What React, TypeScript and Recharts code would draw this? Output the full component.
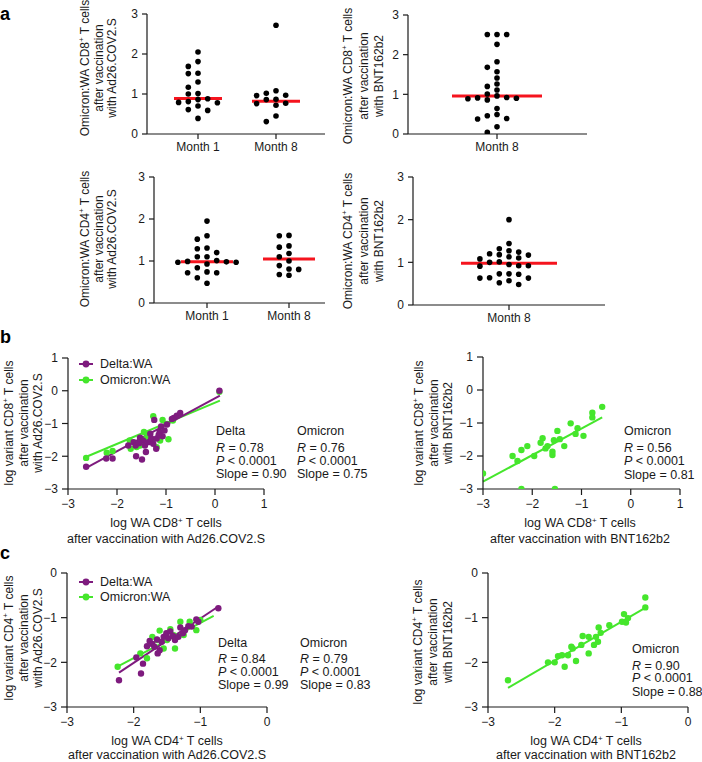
import React from 'react';
import { ScatterChart, Scatter, XAxis, YAxis, ReferenceLine } from 'recharts';

const FONT = '"Liberation Sans", Arial, Helvetica, sans-serif';
const INK = '#1a1a1a';
const RED = '#f5141e';
const PURPLE = '#7e1b7e';
const GREEN = '#45e62c';

// ---------- Panel a data (ratio Omicron:WA) ----------
const monthCats = ['Month 1', 'Month 8'];
const month8Cat = ['Month 8'];
const cd8Ad26M1 = [2.05, 1.81, 1.69, 1.52, 1.51, 1.3, 1.17, 1.01, 1.0, 0.88, 0.86, 0.81, 0.79, 0.78, 0.7, 0.61, 0.59, 0.39];
const cd8Ad26M8 = [2.72, 1.08, 1.02, 0.97, 0.96, 0.87, 0.86, 0.77, 0.76, 0.72, 0.45, 0.31];
const cd8BntM8 = [2.51, 2.51, 2.51, 2.26, 1.82, 1.68, 1.57, 1.41, 1.26, 1.2, 1.11, 1.01, 0.96, 0.92, 0.91, 0.9, 0.89, 0.86, 0.64, 0.49, 0.46, 0.39, 0.38, 0.18, 0.04];
const cd4Ad26M1 = [1.95, 1.6, 1.52, 1.31, 1.29, 1.2, 1.1, 1.1, 1.01, 0.99, 0.98, 0.97, 0.97, 0.93, 0.84, 0.74, 0.72, 0.72, 0.6, 0.47];
const cd4Ad26M8 = [1.61, 1.6, 1.36, 1.33, 1.18, 1.1, 1.0, 0.89, 0.81, 0.8, 0.68, 0.66];
const cd4BntM8 = [2.0, 1.44, 1.32, 1.27, 1.24, 1.2, 1.18, 1.17, 1.13, 1.1, 1.08, 1.01, 1.0, 0.95, 0.92, 0.92, 0.91, 0.73, 0.73, 0.72, 0.64, 0.63, 0.63, 0.57, 0.52, 0.48];
const medCd8Ad26 = [0.89, 0.82];
const medCd8Bnt = [0.96];
const medCd4Ad26 = [0.98, 1.05];
const medCd4Bnt = [0.98];
const ratioTicks = [0, 1, 2, 3];

// ---------- Panel b data (log WA, log variant) ----------
const bDeltaAd26 = [[-2.63, -2.32], [-2.22, -2.07], [-2.09, -2.07], [-1.77, -1.67], [-1.66, -1.57], [-1.61, -2.0], [-1.49, -2.1], [-1.41, -1.87], [-1.53, -1.43], [-1.47, -1.52], [-1.43, -1.67], [-1.36, -1.57], [-1.3, -1.46], [-1.26, -1.62], [-1.2, -1.77], [-1.19, -1.46], [-1.24, -0.89], [-1.13, -1.26], [-1.1, -1.09], [-1.07, -1.39], [-1.03, -1.21], [-0.98, -1.03], [-0.88, -0.86], [-0.84, -0.83], [-0.78, -0.76], [-0.71, -0.68], [0.09, 0.0], [-1.62, -1.67], [-1.32, -1.31], [-1.55, -1.6], [-1.15, -1.35]];
const bOmicronAd26 = [[-2.63, -2.05], [-2.21, -1.89], [-2.09, -1.84], [-1.74, -1.52], [-1.72, -1.77], [-1.6, -1.72], [-1.45, -1.26], [-1.26, -0.78], [-1.07, -0.89], [-0.95, -1.48], [-0.86, -0.91], [0.09, -0.03], [-1.36, -1.33], [-1.53, -1.67], [-1.19, -1.72], [-1.12, -1.52], [-0.98, -1.01], [-1.4, -1.45], [-1.28, -1.5]];
const bDeltaAd26Fit = [[-2.6, -2.33], [0.1, -0.15]];
const bOmicronAd26Fit = [[-2.6, -2.0], [0.1, -0.3]];
const bOmicronBnt = [[-3.0, -2.53], [-2.4, -2.0], [-2.3, -2.15], [-2.22, -1.82], [-2.1, -1.7], [-1.96, -2.0], [-1.83, -1.6], [-1.79, -1.46], [-1.73, -1.77], [-1.69, -1.7], [-1.59, -1.97], [-1.59, -1.87], [-1.56, -1.52], [-1.49, -1.24], [-1.44, -1.49], [-1.35, -1.7], [-1.22, -1.01], [-1.12, -1.33], [-1.08, -1.16], [-0.96, -1.39], [-0.78, -0.69], [-0.78, -0.83], [-0.58, -0.51], [-2.22, -3.0], [-1.54, -3.0]];
const bOmicronBntFit = [[-3.0, -2.78], [-0.58, -0.83]];
const bTicks = [-3, -2, -1, 0, 1];

// ---------- Panel c data ----------
const cDeltaAd26 = [[-2.22, -2.4], [-1.96, -1.89], [-1.89, -2.25], [-1.86, -2.03], [-1.8, -1.64], [-1.76, -1.52], [-1.72, -1.59], [-1.65, -1.49], [-1.64, -1.8], [-1.61, -1.73], [-1.58, -1.54], [-1.55, -1.43], [-1.51, -1.35], [-1.48, -1.46], [-1.45, -1.31], [-1.41, -1.41], [-1.38, -1.5], [-1.33, -1.43], [-1.3, -1.22], [-1.26, -1.35], [-1.23, -1.28], [-1.18, -1.19], [-1.13, -1.2], [-1.06, -1.04], [-1.03, -1.09], [-0.73, -0.79], [-1.69, -1.65]];
const cOmicronAd26 = [[-2.24, -2.1], [-1.9, -1.8], [-1.8, -1.91], [-1.61, -1.29], [-1.55, -1.69], [-1.45, -1.26], [-1.38, -1.69], [-1.3, -1.09], [-1.25, -1.39], [-1.16, -1.09], [-1.06, -1.28], [-1.65, -1.5], [-1.5, -1.5], [-1.4, -1.39], [-1.72, -1.43], [-1.0, -1.05]];
const cDeltaAd26Fit = [[-2.22, -2.23], [-0.73, -0.75]];
const cOmicronAd26Fit = [[-2.25, -2.1], [-0.8, -0.96]];
const cOmicronBnt = [[-2.7, -2.4], [-2.1, -2.0], [-2.0, -2.0], [-1.95, -1.86], [-1.89, -1.84], [-1.85, -2.1], [-1.8, -1.84], [-1.75, -1.65], [-1.73, -1.69], [-1.68, -1.97], [-1.6, -1.61], [-1.58, -1.41], [-1.49, -1.43], [-1.49, -1.8], [-1.41, -1.61], [-1.38, -1.43], [-1.35, -1.54], [-1.34, -1.22], [-1.31, -1.34], [-1.18, -1.17], [-0.99, -1.09], [-0.96, -0.92], [-0.93, -1.11], [-0.9, -1.01], [-0.64, -0.77], [-0.64, -0.55]];
const cOmicronBntFit = [[-2.7, -2.57], [-0.63, -0.77]];
const cTicks = [-3, -2, -1, 0];

const fmtMinus = (v: number) => (v < 0 ? `\u2212${Math.abs(v)}` : `${v}`);

// beeswarm layout computed from the values (pixel offsets)
function beeswarm(values: number[], pxPerY: number, step: number, minDist: number): number[] {
  const order = values.map((_, i) => i).sort((a, b) => values[b] - values[a]);
  const placed: { x: number; y: number }[] = [];
  const out = new Array(values.length).fill(0);
  for (const i of order) {
    const y = values[i] * pxPerY;
    const cands = [0];
    for (let k = 1; k < 12; k++) { cands.push(-k * step, k * step); }
    let chosen = 0;
    for (const c of cands) {
      const ok = placed.every((p) => Math.hypot(p.x - c, p.y - y) >= minDist);
      if (ok) { chosen = c; break; }
    }
    placed.push({ x: chosen, y });
    out[i] = chosen;
  }
  return out;
}

const axisStyle = { stroke: INK, strokeWidth: 1.2 };
const tickStyle = { fill: INK, fontSize: 12, fontFamily: FONT };

type StripProps = {
  axisX: number; xEnd: number; yTop: number; yBottom: number;
  cats: string[]; catPx: number[]; groups: number[][]; medians: number[]; medianHalfPx: number;
};

function StripPanel(p: StripProps) {
  const YW = 40, MT = 10, MR = 6, XH = 30;
  const plotW = p.xEnd - p.axisX;
  const plotH = p.yBottom - p.yTop;
  const n = p.cats.length;
  const ppu = n > 1 ? p.catPx[1] - p.catPx[0] : (p.xEnd - p.axisX) / 2;
  const domain: [number, number] = [1 - (p.catPx[0] - p.axisX) / ppu, n + (p.xEnd - p.catPx[n - 1]) / ppu];
  const pxPerY = plotH / 3;
  const data = p.groups.flatMap((vals, gi) => {
    const offs = beeswarm(vals, pxPerY, 9.7, 5.9);
    return vals.map((v, i) => ({ x: gi + 1 + offs[i] / ppu, y: v }));
  });
  const hw = p.medianHalfPx / ppu;
  return (
    <div style={{ position: 'absolute', left: p.axisX - YW, top: p.yTop - MT }}>
      <ScatterChart width={YW + plotW + MR} height={MT + plotH + XH} margin={{ top: MT, right: MR, bottom: 0, left: 0 }}>
        <XAxis type="number" dataKey="x" domain={domain} ticks={p.cats.map((_, i) => i + 1)} interval={0}
          tickFormatter={(v: number) => p.cats[Math.round(v) - 1]} height={XH} tickSize={5} tickMargin={3}
          axisLine={axisStyle} tickLine={axisStyle} tick={tickStyle} allowDataOverflow />
        <YAxis type="number" dataKey="y" domain={[0, 3]} ticks={ratioTicks} interval={0} width={YW}
          tickSize={5} tickMargin={4} axisLine={axisStyle} tickLine={axisStyle} tick={tickStyle} allowDataOverflow />
        <Scatter data={data} isAnimationActive={false}
          shape={(s: any) => <circle cx={s.cx} cy={s.cy} r={2.8} fill="#000" />} />
        {p.medians.map((m, i) => (
          <ReferenceLine key={i} segment={[{ x: i + 1 - hw, y: m }, { x: i + 1 + hw, y: m }]}
            stroke={RED} strokeWidth={3} ifOverflow="visible" />
        ))}
      </ScatterChart>
    </div>
  );
}

type Series = { pts: number[][]; color: string; fit: number[][] };
type CorrProps = {
  axisX: number; xEnd: number; yTop: number; yBottom: number;
  xDomain: [number, number]; yDomain: [number, number]; xTicks: number[]; yTicks: number[]; series: Series[];
};

function CorrPanel(p: CorrProps) {
  const YW = 36, MT = 10, MR = 10, XH = 26;
  const plotW = p.xEnd - p.axisX;
  const plotH = p.yBottom - p.yTop;
  return (
    <div style={{ position: 'absolute', left: p.axisX - YW, top: p.yTop - MT }}>
      <ScatterChart width={YW + plotW + MR} height={MT + plotH + XH} margin={{ top: MT, right: MR, bottom: 0, left: 0 }}>
        <XAxis type="number" dataKey="x" domain={p.xDomain} ticks={p.xTicks} interval={0} height={XH}
          tickFormatter={fmtMinus} tickSize={6} tickMargin={4} axisLine={axisStyle} tickLine={axisStyle}
          tick={tickStyle} allowDataOverflow />
        <YAxis type="number" dataKey="y" domain={p.yDomain} ticks={p.yTicks} interval={0} width={YW}
          tickFormatter={fmtMinus} tickSize={6} tickMargin={4} axisLine={axisStyle} tickLine={axisStyle}
          tick={tickStyle} allowDataOverflow />
        {p.series.map((s, i) => (
          <Scatter key={i} data={s.pts.map(([x, y]) => ({ x, y }))} isAnimationActive={false}
            shape={(d: any) => <circle cx={d.cx} cy={d.cy} r={3.2} fill={s.color} />} />
        ))}
        {p.series.map((s, i) => (
          <ReferenceLine key={'f' + i} segment={[{ x: s.fit[0][0], y: s.fit[0][1] }, { x: s.fit[1][0], y: s.fit[1][1] }]}
            stroke={s.color} strokeWidth={2} ifOverflow="visible" />
        ))}
      </ScatterChart>
    </div>
  );
}

// ---------- text helpers ----------
const cellText = (prefix: string, cd: string) => (
  <>
    {prefix} CD{cd}
    <tspan dy={-4.5} fontSize={8}>+</tspan>
    <tspan dy={4.5}> T cells</tspan>
  </>
);

function RotLines({ xs, cy, lines }: { xs: number[]; cy: number; lines: React.ReactNode[] }) {
  return (
    <>
      {lines.map((ln, i) => (
        <text key={i} x={xs[i]} y={cy} transform={`rotate(-90 ${xs[i]} ${cy})`} textAnchor="middle"
          dominantBaseline="central" fontSize={12} fontFamily={FONT} fill={INK}>{ln}</text>
      ))}
    </>
  );
}

function XTitle({ cx, ys, lines }: { cx: number; ys: number[]; lines: React.ReactNode[] }) {
  return (
    <>
      {lines.map((ln, i) => (
        <text key={i} x={cx} y={ys[i]} textAnchor="middle" fontSize={12.5} fontFamily={FONT} fill={INK}>{ln}</text>
      ))}
    </>
  );
}

function Stats({ x, ys, title, r, slope }: { x: number; ys: number[]; title: string; r: string; slope: string }) {
  const common = { fontSize: 12.5, fontFamily: FONT, fill: INK };
  return (
    <>
      <text x={x} y={ys[0]} {...common}>{title}</text>
      <text x={x} y={ys[1]} {...common}><tspan fontStyle="italic">R</tspan>{' = ' + r}</text>
      <text x={x} y={ys[2]} {...common}><tspan fontStyle="italic">P</tspan>{' < 0.0001'}</text>
      <text x={x} y={ys[3]} {...common}>{'Slope = ' + slope}</text>
    </>
  );
}

function LegendRows({ x, ys }: { x: number; ys: number[] }) {
  const items = [
    { label: 'Delta:WA', color: PURPLE },
    { label: 'Omicron:WA', color: GREEN },
  ];
  return (
    <>
      {items.map((it, i) => (
        <g key={i}>
          <line x1={x} x2={x + 14} y1={ys[i]} y2={ys[i]} stroke={it.color} strokeWidth={2} />
          <circle cx={x + 7} cy={ys[i]} r={3.4} fill={it.color} />
          <text x={x + 21} y={ys[i]} dominantBaseline="central" fontSize={12.5} fontFamily={FONT} fill={INK}>{it.label}</text>
        </g>
      ))}
    </>
  );
}

export default function App() {
  return (
    <div style={{ position: 'absolute', left: 0, top: 0, width: 702, height: 762, background: '#fff', overflow: 'hidden' }}>
      {/* Panel a */}
      <StripPanel axisX={147} xEnd={325} yTop={14} yBottom={134} cats={monthCats} catPx={[198, 276]}
        groups={[cd8Ad26M1, cd8Ad26M8]} medians={medCd8Ad26} medianHalfPx={24} />
      <StripPanel axisX={408} xEnd={587} yTop={15} yBottom={134} cats={month8Cat} catPx={[497]}
        groups={[cd8BntM8]} medians={medCd8Bnt} medianHalfPx={45} />
      <StripPanel axisX={154} xEnd={325} yTop={177} yBottom={303} cats={monthCats} catPx={[207, 289]}
        groups={[cd4Ad26M1, cd4Ad26M8]} medians={medCd4Ad26} medianHalfPx={26} />
      <StripPanel axisX={413} xEnd={605} yTop={177} yBottom={305} cats={month8Cat} catPx={[509]}
        groups={[cd4BntM8]} medians={medCd4Bnt} medianHalfPx={48} />

      {/* Panel b */}
      <CorrPanel axisX={68} xEnd={264} yTop={358} yBottom={489} xDomain={[-3, 1]} yDomain={[-3, 1]}
        xTicks={bTicks} yTicks={bTicks}
        series={[{ pts: bOmicronAd26, color: GREEN, fit: bOmicronAd26Fit }, { pts: bDeltaAd26, color: PURPLE, fit: bDeltaAd26Fit }]} />
      <CorrPanel axisX={483} xEnd={680} yTop={357} yBottom={489} xDomain={[-3, 1]} yDomain={[-3, 1]}
        xTicks={bTicks} yTicks={bTicks}
        series={[{ pts: bOmicronBnt, color: GREEN, fit: bOmicronBntFit }]} />

      {/* Panel c */}
      <CorrPanel axisX={67} xEnd={267} yTop={573} yBottom={707} xDomain={[-3, 0]} yDomain={[-3, 0]}
        xTicks={cTicks} yTicks={cTicks}
        series={[{ pts: cOmicronAd26, color: GREEN, fit: cOmicronAd26Fit }, { pts: cDeltaAd26, color: PURPLE, fit: cDeltaAd26Fit }]} />
      <CorrPanel axisX={488} xEnd={688} yTop={573} yBottom={707} xDomain={[-3, 0]} yDomain={[-3, 0]}
        xTicks={cTicks} yTicks={cTicks}
        series={[{ pts: cOmicronBnt, color: GREEN, fit: cOmicronBntFit }]} />

      <svg width={702} height={762} style={{ position: 'absolute', left: 0, top: 0, pointerEvents: 'none' }}>
        <text x={0} y={20} fontSize={18} fontWeight="bold" fontFamily={FONT} fill="#000">a</text>
        <text x={0} y={343} fontSize={18} fontWeight="bold" fontFamily={FONT} fill="#000">b</text>
        <text x={0} y={559} fontSize={18} fontWeight="bold" fontFamily={FONT} fill="#000">c</text>

        <RotLines xs={[85, 98.5, 112]} cy={68} lines={[cellText('Omicron:WA', '8'), 'after vaccination', 'with Ad26.COV2.S']} />
        <RotLines xs={[348, 363.5, 379]} cy={76} lines={[cellText('Omicron:WA', '8'), 'after vaccination', 'with BNT162b2']} />
        <RotLines xs={[85, 98.5, 112]} cy={239} lines={[cellText('Omicron:WA', '4'), 'after vaccination', 'with Ad26.COV2.S']} />
        <RotLines xs={[348, 363.5, 379]} cy={241} lines={[cellText('Omicron:WA', '4'), 'after vaccination', 'with BNT162b2']} />

        <RotLines xs={[9, 23.5, 38]} cy={423} lines={[cellText('log variant', '8'), 'after vaccination', 'with Ad26.COV2.S']} />
        <RotLines xs={[419, 433.5, 448]} cy={423} lines={[cellText('log variant', '8'), 'after vaccination', 'with BNT162b2']} />
        <RotLines xs={[9, 23.5, 38]} cy={638} lines={[cellText('log variant', '4'), 'after vaccination', 'with Ad26.COV2.S']} />
        <RotLines xs={[418, 433, 448]} cy={642} lines={[cellText('log variant', '4'), 'after vaccination', 'with BNT162b2']} />

        <XTitle cx={166} ys={[527, 543]} lines={[cellText('log WA', '8'), 'after vaccination with Ad26.COV2.S']} />
        <XTitle cx={580} ys={[527, 543]} lines={[cellText('log WA', '8'), 'after vaccination with BNT162b2']} />
        <XTitle cx={167} ys={[745, 758.5]} lines={[cellText('log WA', '4'), 'after vaccination with Ad26.COV2.S']} />
        <XTitle cx={586} ys={[745, 758.5]} lines={[cellText('log WA', '4'), 'after vaccination with BNT162b2']} />

        <LegendRows x={79} ys={[364, 380]} />
        <LegendRows x={79} ys={[582, 597]} />

        <Stats x={216} ys={[434.5, 452, 465, 478]} title="Delta" r="0.78" slope="0.90" />
        <Stats x={297} ys={[434.5, 452, 465, 478]} title="Omicron" r="0.76" slope="0.75" />
        <Stats x={624} ys={[434.5, 451.5, 465, 478.5]} title="Omicron" r="0.56" slope="0.81" />
        <Stats x={218} ys={[647, 663, 675.5, 689]} title="Delta" r="0.84" slope="0.99" />
        <Stats x={300} ys={[647, 663, 675.5, 689]} title="Omicron" r="0.79" slope="0.83" />
        <Stats x={632} ys={[653, 669.5, 682, 696]} title="Omicron" r="0.90" slope="0.88" />
      </svg>
    </div>
  );
}
